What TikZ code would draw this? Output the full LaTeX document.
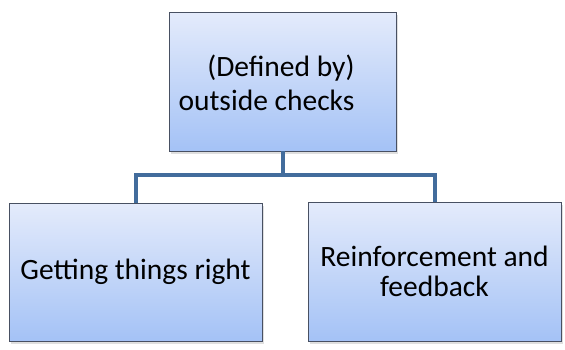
\documentclass[tikz,border=0pt]{standalone}
\usepackage{fontspec}
\setmainfont{Carlito}
\usetikzlibrary{positioning,shadows}
\definecolor{boxtop}{RGB}{228,235,251}
\definecolor{boxbottom}{RGB}{164,194,246}
\definecolor{boxedge}{RGB}{72,80,98}
\definecolor{linkblue}{RGB}{66,108,156}

\begin{document}
\begin{tikzpicture}[
    x=1pt, y=-1pt,
    block/.style={rectangle, draw=boxedge, line width=0.8pt,
                  top color=boxtop, bottom color=boxbottom,
                  minimum width=253pt, minimum height=138pt,
                  align=center, inner sep=0pt,
                  drop shadow={opacity=0.25, shadow xshift=2pt, shadow yshift=-3pt}},
    label/.style={align=center, inner sep=0pt, text=black},
    link/.style={draw=linkblue, line width=4pt}
]
  \useasboundingbox (0,0) rectangle (565,349);

  \node[block, minimum width=227pt, minimum height=139pt] (top) at (282.5,81.5) {};
  \node[label, align=right, font=\fontsize{29.5}{34}\selectfont]
    (toptext) at ([xshift=-16pt, yshift=-1pt]top.center) {(Defined by)\\outside checks};

  \node[block, font=\fontsize{29.5}{30}\selectfont] (left) at (135.5,272) {Getting things right};
  \node[block, minimum height=139pt, font=\fontsize{29.5}{29.5}\selectfont] (right) at (434.5,271.5)
    {Reinforcement and\\feedback};

  \coordinate (bus) at ([yshift=-24pt]top.south);

  \draw[link] (top.south) -- (bus) -| (left.north);
  \draw[link] (bus) -| (right.north);
\end{tikzpicture}
\end{document}
